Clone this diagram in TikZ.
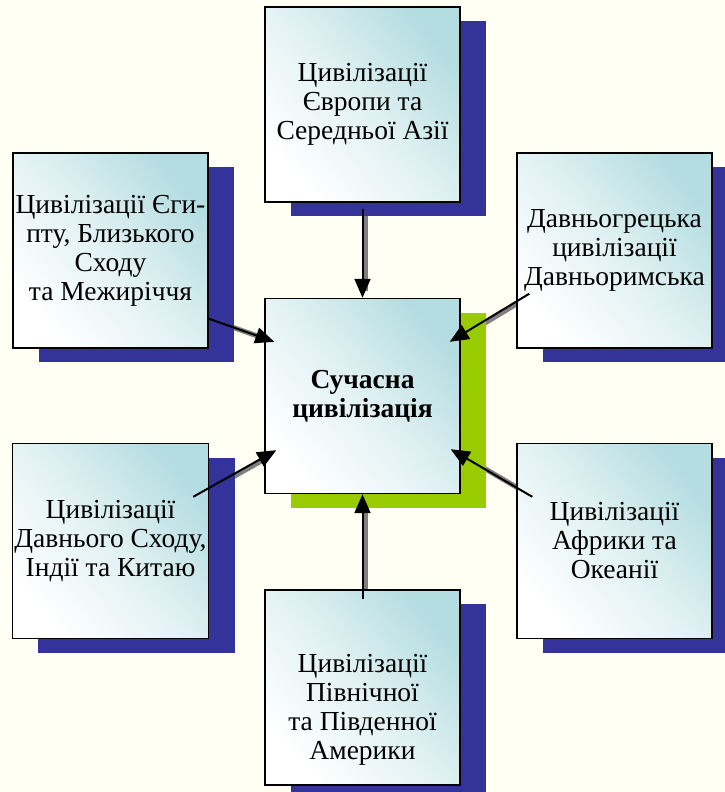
\documentclass[tikz,border=0pt]{standalone}
\usepackage{fontspec}
\setmainfont{Liberation Serif}
\usetikzlibrary{arrows.meta,shadows}
\definecolor{paper}{RGB}{255,255,244}
\definecolor{navyshade}{RGB}{51,51,153}
\definecolor{limeshade}{RGB}{153,204,0}
\definecolor{paleteal}{RGB}{180,221,225}
\definecolor{linkgray}{RGB}{128,128,128}
\pgfdeclarelayer{paperlayer}
\pgfdeclarelayer{under}
\pgfsetlayers{paperlayer,under,main}
\tikzset{
  civ/.style={draw=black, line width=1.4pt, minimum width=195pt, minimum height=195pt,
    inner sep=2pt, align=center, font=\fontsize{27.5}{29}\selectfont,
    top color=paleteal, bottom color=white, middle color=paleteal!40!white, shading angle=-50,
    general shadow={fill=navyshade, shadow xshift=26pt, shadow yshift=-14pt}},
  hub/.style={civ, font=\fontsize{27.5}{29}\selectfont\bfseries,
    general shadow={fill=limeshade, shadow xshift=26pt, shadow yshift=-14pt}},
  link/.style={line width=2pt, -{Triangle[length=19pt,width=16pt]}},
  linkshade/.style={line width=5pt, linkgray, shorten >=8pt,
    transform canvas={xshift=2.5pt, yshift=-1pt}}
}
\begin{document}
\begin{tikzpicture}[x=1pt, y=-1pt]
  \begin{pgfonlayer}{paperlayer}
    \fill[paper] (0,0) rectangle (725,792);
  \end{pgfonlayer}
  \useasboundingbox (0,0) rectangle (725,792);

  % boxes
  \node[hub] (now) at (362.5,396) {Сучасна\\цивілізація};
  \node[civ] (europe) at (362.5,104.5) {Цивілізації\\Європи та\\Середньої Азії};
  \node[civ] (egypt) at (110.5,250.5) {Цивілізації Єги-\\пту, Близького\\Сходу\\та Межиріччя};
  \node[civ] (antique) at (614.5,250.5) {Давньогрецька\\цивілізації\\Давньоримська};
  \node[civ] (east) at (110.5,541) {Цивілізації\\Давнього Сходу,\\Індії та Китаю};
  \node[civ] (africa) at (614.5,541) {Цивілізації\\Африки та\\Океанії};
  \node[civ, text height=150pt] (america) at (362.5,687.5) {Цивілізації\\Північної\\та Південної\\Америки};

  % free ends of the links
  \coordinate (europe-out) at ([shift={(0,6)}]europe.south);
  \coordinate (america-out) at ([shift={(0,10)}]america.north);
  \coordinate (egypt-out) at ([shift={(0,-30)}]egypt.south east);
  \coordinate (antique-out) at ([shift={(13,-55)}]antique.south west);
  \coordinate (east-out) at ([shift={(-16,54)}]east.north east);
  \coordinate (africa-out) at ([shift={(16,54)}]africa.north west);
  \coordinate (egypt-in) at ([shift={(10,44)}]now.north west);
  \coordinate (antique-in) at ([shift={(-11,44)}]now.north east);
  \coordinate (east-in) at ([shift={(12,-44)}]now.south west);
  \coordinate (africa-in) at ([shift={(-10,-45)}]now.south east);

  % links, grey under the boxes
  \begin{pgfonlayer}{under}
    \draw[linkshade] (europe-out) -- (now.north);
    \draw[linkshade] (america-out) -- (now.south);
    \draw[linkshade] (egypt-out) -- (egypt-in);
    \draw[linkshade] (antique-out) -- (antique-in);
    \draw[linkshade] (east-out) -- (east-in);
    \draw[linkshade] (africa-out) -- (africa-in);
  \end{pgfonlayer}
  \draw[link] (europe-out) -- (now.north);
  \draw[link] (america-out) -- (now.south);
  \draw[link] (egypt-out) -- (egypt-in);
  \draw[link] (antique-out) -- (antique-in);
  \draw[link] (east-out) -- (east-in);
  \draw[link] (africa-out) -- (africa-in);
\end{tikzpicture}
\end{document}
